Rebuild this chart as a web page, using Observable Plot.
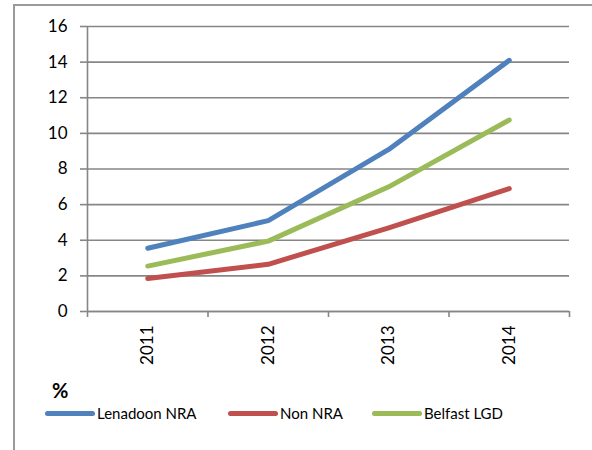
<!DOCTYPE html>
<html>
<head>
<meta charset="utf-8">
<script src="https://cdn.jsdelivr.net/npm/d3@7"></script>
<script src="https://cdn.jsdelivr.net/npm/@observablehq/plot@0.6"></script>
<style>
  body { margin: 0; background: #fff; font-family: Lato, "Open Sans", sans-serif; }
  #wrap { position: relative; width: 592px; height: 450px; overflow: hidden; background: #fff; }
  #bl { position: absolute; left: 13px; top: 4px; width: 2px; height: 446px; background: #9a9a9a; }
  #bt { position: absolute; left: 13px; top: 4px; width: 579px; height: 2px; background: #9a9a9a; }
  #chart { position: absolute; left: 0; top: 0; }
  #pct { position: absolute; left: 52px; top: 378px; font-weight: bold; font-size: 20px; color: #000; }
  .lg { position: absolute; top: 404px; font-size: 15px; color: #000; display: flex; align-items: center; white-space: nowrap; }
  .sw { display: inline-block; width: 50px; height: 5px; border-radius: 3px; margin-right: 2px; }
</style>
</head>
<body>
<div id="wrap">
  <div id="bl"></div>
  <div id="bt"></div>
  <div id="chart"></div>
  <div id="pct">%</div>
  <div id="legend"></div>
</div>
<script>
const years = [2011, 2012, 2013, 2014];
const seriesNames = ["Lenadoon NRA", "Non NRA", "Belfast LGD"];
const lenadoon = [3.55, 5.1, 9.1, 14.1];
const nonNRA = [1.85, 2.65, 4.7, 6.9];
const belfast = [2.55, 3.95, 7.0, 10.75];
const colors = ["#4F81BD", "#C0504D", "#9BBB59"];
const yTicks = [0, 2, 4, 6, 8, 10, 12, 14, 16];

const seriesValues = [lenadoon, nonNRA, belfast];
const data = [];
seriesNames.forEach((name, i) => {
  years.forEach((yr, j) => data.push({series: name, year: yr, value: seriesValues[i][j]}));
});
const xDomain = [years[0] - 0.5, years[years.length - 1] + 0.5];
const boundaries = years.map(y => y - 0.5).concat([years[years.length - 1] + 0.5]);
const axisColor = "#868686";

const chart = Plot.plot({
  width: 592,
  height: 370,
  marginLeft: 87,
  marginRight: 23,
  marginTop: 26,
  marginBottom: 59,
  style: {fontFamily: "Lato, 'Open Sans', sans-serif", fontSize: "17px", color: "#000", background: "transparent"},
  x: {type: "linear", domain: xDomain},
  y: {domain: [0, 16]},
  color: {domain: seriesNames, range: colors},
  marks: [
    Plot.gridY(yTicks, {stroke: axisColor, strokeOpacity: 1, strokeWidth: 1.6}),
    Plot.axisY({ticks: yTicks, tickSize: 7, tickPadding: 13, stroke: axisColor, strokeWidth: 1.6, label: null, fill: "#000"}),
    Plot.axisX({ticks: boundaries, tickSize: 6, tickFormat: () => "", stroke: axisColor, strokeWidth: 1.6, label: null}),
    Plot.axisX({ticks: years, tickSize: 0, tickPadding: 14, tickRotate: -90, tickFormat: d => String(d), label: null, fill: "#000"}),
    Plot.ruleX([xDomain[0]], {stroke: axisColor, strokeWidth: 1.6}),
    Plot.ruleY([0], {stroke: axisColor, strokeWidth: 1.6}),
    Plot.line(data, {x: "year", y: "value", z: "series", stroke: "series", strokeWidth: 5, strokeLinecap: "round", strokeLinejoin: "round"})
  ]
});
document.getElementById("chart").appendChild(chart);

const legend = document.getElementById("legend");
const lgLeft = [45, 228, 372];
seriesNames.forEach((name, i) => {
  const item = document.createElement("div");
  item.className = "lg";
  item.style.left = lgLeft[i] + "px";
  const sw = document.createElement("span");
  sw.className = "sw";
  sw.style.background = colors[i];
  item.appendChild(sw);
  item.appendChild(document.createTextNode(name));
  legend.appendChild(item);
});
</script>
</body>
</html>
